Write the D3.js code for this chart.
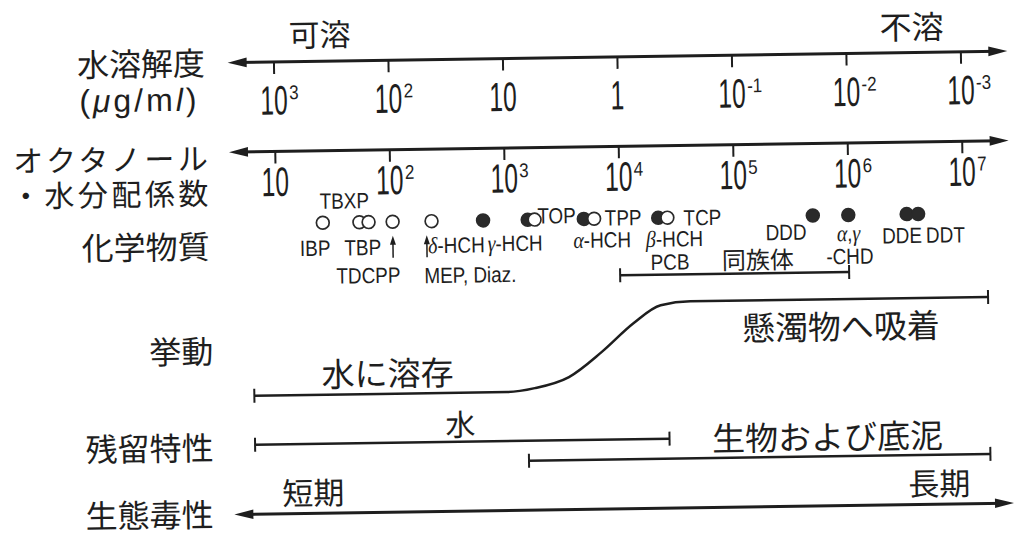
<!DOCTYPE html>
<html><head><meta charset="utf-8">
<script src="https://cdn.jsdelivr.net/npm/d3@7"></script>
<style>
html,body{margin:0;padding:0;background:#fff;}
svg{display:block;}
.jp{font-family:"Noto Sans CJK JP","Noto Sans CJK SC",sans-serif;fill:#1e1e1e;}
.lat{font-family:"Liberation Sans",Arial,sans-serif;fill:#1e1e1e;}
</style></head><body>
<svg id="c" width="1018" height="533"></svg>
<script>
// ---------------- data ----------------
const solubilityTicks = [1e3, 1e2, 10, 1, 1e-1, 1e-2, 1e-3];
const solubilityTickLabels = [["10","3"],["10","2"],["10",""],["1",""],["10","-1"],["10","-2"],["10","-3"]];
const kowTicks = [1e1, 1e2, 1e3, 1e4, 1e5, 1e6, 1e7];
const kowTickLabels = [["10",""],["10","2"],["10","3"],["10","4"],["10","5"],["10","6"],["10","7"]];

const chemNames  = ["IBP","TBP","TBXP","TDCPP","MEP, Diaz.","δ-HCH","γ-HCH","TOP","α-HCH","TPP","β-HCH","TCP","DDD","α,γ-CHD","DDE","DDT"];
const chemLogKow = [1.41, 1.73, 1.81, 2.02, 2.36, 2.81, 3.20, 3.26, 3.69, 3.78, 4.34, 4.42, 5.69, 6.00, 6.51, 6.61];
const chemFilled = [0, 0, 0, 0, 0, 1, 1, 0, 1, 0, 1, 0, 1, 1, 1, 1];

const pcbRange = [4.0, 6.0];                 // log Kow, PCB congeners
const behaviourLogKow = [0.79, 3.00, 3.24, 3.54, 3.83, 4.11, 4.35, 4.61, 7.21];
const behaviourLevel  = [0, 0, 0.04, 0.16, 0.44, 0.76, 0.96, 1, 1];   // 0 = dissolved, 1 = adsorbed
const waterRange = [0.79, 4.41];
const biotaRange = [3.18, 7.21];
const axisExtent = [0.6, 7.41];

// ---------------- layout ----------------
const svg = d3.select("#c");
const g = svg.append("g").attr("transform", "rotate(-0.85,509,266)");
const INK = "#1e1e1e";

const kow = d3.scaleLog().domain([10, 1e7]).range([276.5, 963.5]);
const sol = d3.scaleLog().domain([1e3, 1e-3]).range([276.5, 963.5]);
const xL = v => kow(Math.pow(10, v));
const yB = d3.scaleLinear().domain([0, 1]).range([392, 304]);

function sText(parent, x, y, str, size, sx, anchor) {
  return parent.append("text").attr("class", "lat").attr("font-size", size)
    .attr("text-anchor", anchor || "middle")
    .attr("transform", `translate(${x},${y}) scale(${sx},1)`).text(str);
}
function jText(x, y, str, size, anchor, ls) {
  return g.append("text").attr("class", "jp").attr("x", x).attr("y", y)
    .attr("font-size", size).attr("text-anchor", anchor || "middle")
    .attr("dominant-baseline", "central")
    .attr("letter-spacing", ls || 0).text(str);
}
function richText(parent, x, y, str, size, sx, anchor) {
  const t = parent.append("text").attr("class", "lat").attr("font-size", size)
    .attr("text-anchor", anchor || "middle")
    .attr("transform", `translate(${x},${y}) scale(${sx},1)`);
  const runs = str.match(/[αβγδ]+|[^αβγδ]+/g);
  runs.forEach(r => {
    const ts = t.append("tspan").text(r);
    if (/[αβγδ]/.test(r)) ts.attr("font-family", "'Liberation Serif',serif").attr("font-style", "italic").attr("font-size", size * 1.05);
  });
  return t;
}
function powLabel(x, y, base, sup) {
  const sx = 0.6;
  const b = sText(g, x, y, base, 41, sx, "middle");
  if (sup) {
    const w = b.node().getComputedTextLength() * sx;
    sText(g, x + w / 2 + 1.5, y - 15, sup, 20, 0.85, "start");
  }
}
function arrowLine(y) {
  const x0 = xL(axisExtent[0]), x1 = xL(axisExtent[1]);
  g.append("line").attr("x1", x0 + 8).attr("x2", x1 - 8).attr("y1", y).attr("y2", y)
    .attr("stroke", INK).attr("stroke-width", 3);
  g.append("path").attr("d", `M${x0},${y}L${x0 + 19},${y - 4.8}L${x0 + 19},${y + 4.8}Z`).attr("fill", INK);
  g.append("path").attr("d", `M${x1},${y}L${x1 - 19},${y - 4.8}L${x1 - 19},${y + 4.8}Z`).attr("fill", INK);
}
function styleAxis(sel) {
  sel.select(".domain").remove();
  sel.selectAll(".tick line").attr("stroke", INK).attr("stroke-width", 2);
  sel.selectAll(".tick text").remove();
}
function bracket(r, y) {
  const x0 = xL(r[0]), x1 = xL(r[1]);
  g.append("line").attr("x1", x0).attr("x2", x1).attr("y1", y).attr("y2", y).attr("stroke", INK).attr("stroke-width", 2.5);
  [x0, x1].forEach(x => g.append("line").attr("x1", x).attr("x2", x).attr("y1", y - 7).attr("y2", y + 7).attr("stroke", INK).attr("stroke-width", 2));
}

// ---- solubility axis ----
const yA1 = 58.5;
arrowLine(yA1);
g.append("g").attr("transform", `translate(0,${yA1})`)
  .call(d3.axisBottom(sol).tickValues(solubilityTicks).tickSize(12).tickFormat("")).call(styleAxis);
solubilityTicks.forEach((v, i) => powLabel(sol(v), 111, solubilityTickLabels[i][0], solubilityTickLabels[i][1]));
jText(323, 30, "可溶", 31);
jText(915, 31, "不溶", 32);
jText(208, 56.5, "水溶解度", 32, "end");
{
  const t = g.append("text").attr("class", "lat").attr("x", 202).attr("y", 106)
    .attr("font-size", 32).attr("text-anchor", "end").attr("letter-spacing", 3);
  t.append("tspan").text("(");
  t.append("tspan").attr("font-style", "italic").text("μ");
  t.append("tspan").text("g/m");
  t.append("tspan").attr("font-style", "italic").text("l");
  t.append("tspan").text(")");
}

// ---- Kow axis ----
const yA2 = 148;
arrowLine(yA2);
g.append("g").attr("transform", `translate(0,${yA2})`)
  .call(d3.axisBottom(kow).tickValues(kowTicks).tickSize(12).tickFormat("")).call(styleAxis);
kowTicks.forEach((v, i) => powLabel(kow(v), 192.5, kowTickLabels[i][0], kowTickLabels[i][1]));
jText(213, 152, "オクタノール", 30, "end", 3.5);
jText(213, 187, "・水分配係数", 30, "end", 3.5);
jText(210, 240, "化学物質", 32, "end");

// ---- chemicals ----
const yC = 220;
const order = d3.range(chemNames.length).sort((a, b) => chemFilled[b] - chemFilled[a]);
order.forEach(i => {
  g.append("circle").attr("cx", xL(chemLogKow[i])).attr("cy", yC).attr("r", 6.4)
    .attr("fill", chemFilled[i] ? "#2a2a2a" : "#fff")
    .attr("stroke", "#2a2a2a").attr("stroke-width", 1.7);
});
// label placements relative to each point: [chem index, text, dx, dy]
const chemLabelLayout = [
  [0, "IBP", -8, 33], [1, "TBP", 3, 33], [2, "TBXP", -24, -14],
  [3, "TDCPP", -25, 61], [4, "MEP, Diaz.", 38, 62],
  [5, "δ-HCH", -27, 32], [6, "γ-HCH", -13, 31], [7, "TOP", 22, 4],
  [8, "α-HCH", 18, 29], [9, "TPP", 29, 7], [10, "β-HCH", 16, 29], [11, "TCP", 35, 8],
  [12, "DDD", -27, 24], [13, "α,γ", 0, 26], [13, "-CHD", 1, 49],
  [14, "DDE", -5, 29], [15, "DDT", 27, 29]
];
chemLabelLayout.forEach(([i, txt, dx, dy]) => richText(g, xL(chemLogKow[i]) + dx, yC + dy, txt, 22, 0.86));
// small up-arrows for TDCPP and MEP/Diaz.
[[3, 0], [4, -5]].forEach(([i, dx]) => {
  const x = xL(chemLogKow[i]) + dx;
  g.append("line").attr("x1", x).attr("x2", x).attr("y1", yC + 36).attr("y2", yC + 20).attr("stroke", INK).attr("stroke-width", 1.5);
  g.append("path").attr("d", `M${x},${yC + 14}L${x - 3},${yC + 23}L${x + 3},${yC + 23}Z`).attr("fill", INK);
});
// PCB congeners
bracket(pcbRange, 277);
richText(g, xL(pcbRange[0]) + 50, 272, "PCB", 22, 0.86);
jText(758, 262, "同族体", 24);

// ---- behaviour ----
jText(212, 345, "挙動", 32, "end");
const bhv = behaviourLogKow.map((v, i) => [v, behaviourLevel[i]]);
g.append("path").datum(bhv)
  .attr("d", d3.line().x(d => xL(d[0])).y(d => yB(d[1])).curve(d3.curveMonotoneX))
  .attr("fill", "none").attr("stroke", INK).attr("stroke-width", 2.5);
[[bhv[0][0], 0], [bhv[bhv.length - 1][0], 1]].forEach(([v, l]) => {
  const x = xL(v), y = yB(l);
  g.append("line").attr("x1", x).attr("x2", x).attr("y1", y - 7).attr("y2", y + 7).attr("stroke", INK).attr("stroke-width", 2);
});
jText(386, 370, "水に溶存", 33);
jText(840, 330, "懸濁物へ吸着", 33);

// ---- persistence ----
jText(211, 441.5, "残留特性", 32, "end");
bracket(waterRange, 441);
bracket(biotaRange, 461);
jText(458, 422, "水", 30);
jText(825, 440, "生物および底泥", 33);

// ---- ecotoxicity ----
jText(210, 508, "生態毒性", 32, "end");
arrowLine(510.5);
jText(310, 488, "短期", 31);
jText(936, 488, "長期", 31);
</script>
</body></html>
